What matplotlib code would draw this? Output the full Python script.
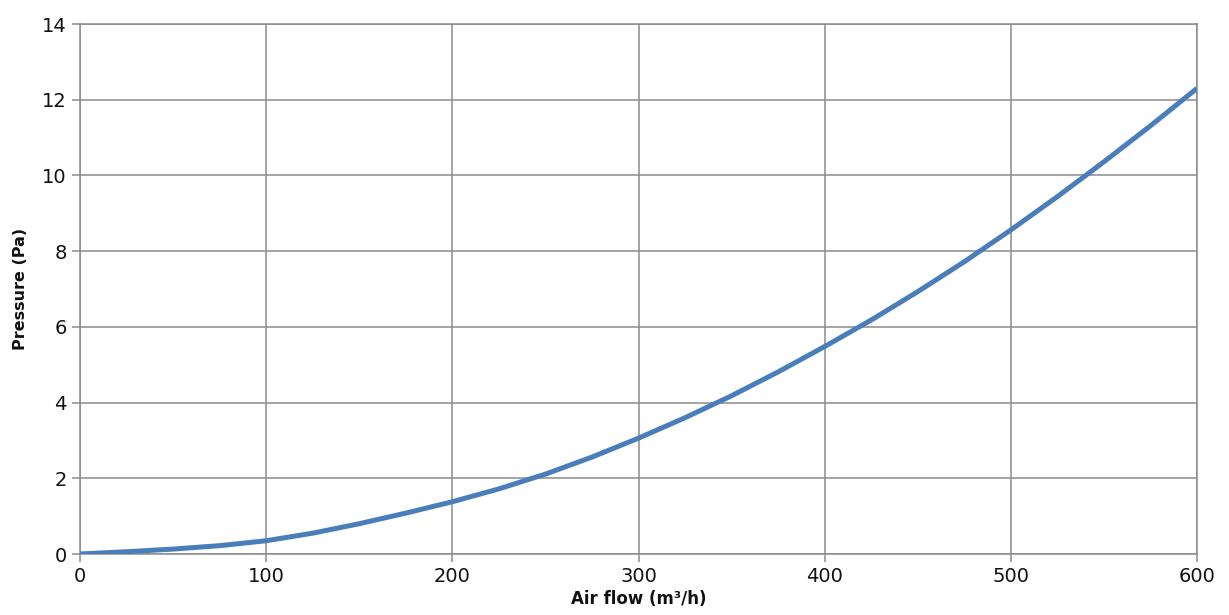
import matplotlib
matplotlib.use('Agg')
import matplotlib.pyplot as plt

# values
air_flow = [0, 25, 50, 75, 100, 125, 150, 175, 200, 225, 250, 275, 300,
            325, 350, 375, 400, 425, 450, 475, 500, 525, 550, 575, 600]
pressure = [0.0, 0.06, 0.13, 0.22, 0.35, 0.55, 0.80, 1.08, 1.38, 1.72, 2.11,
            2.56, 3.06, 3.60, 4.18, 4.81, 5.48, 6.18, 6.93, 7.72, 8.56, 9.44,
            10.36, 11.31, 12.3]

x_ticks = [0, 100, 200, 300, 400, 500, 600]
y_ticks = [0, 2, 4, 6, 8, 10, 12, 14]

plt.rcParams['font.family'] = ['DejaVu Sans']

fig = plt.figure(figsize=(12.29, 6.15), dpi=100)
ax = fig.add_axes([80 / 1229, 1 - 554 / 615, (1197 - 80) / 1229, (554 - 24) / 615])

grid_col = '#8c8c8c'
ax.plot(air_flow, pressure, color='#4a7ebb', linewidth=3.6,
        solid_capstyle='butt', solid_joinstyle='round', zorder=3)

ax.set_xlim(0, 600)
ax.set_ylim(0, 14)
ax.set_xticks(x_ticks)
ax.set_yticks(y_ticks)
ax.grid(True, color=grid_col, linewidth=1.1)
for spine in ax.spines.values():
    spine.set_color(grid_col)
    spine.set_linewidth(1.1)
ax.tick_params(colors=grid_col, labelcolor='#111111', labelsize=14,
               length=6, width=1.1)

ax.set_xlabel('Air flow (m³/h)', fontsize=12, fontweight='bold',
              color='#111111', labelpad=3)
ax.set_ylabel('Pressure (Pa)', fontsize=11.5, fontweight='bold',
              color='#111111', labelpad=10)

fig.savefig('out.png', dpi=100)
